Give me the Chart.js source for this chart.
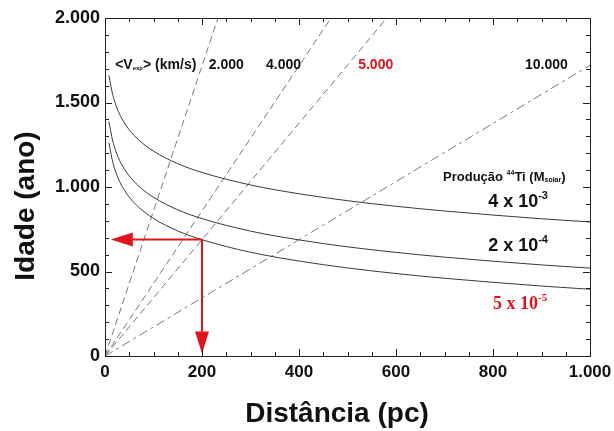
<!DOCTYPE html>
<html>
<head>
<meta charset="utf-8">
<script src="https://cdn.jsdelivr.net/npm/chart.js@4.4.1/dist/chart.umd.min.js"></script>
<style>
    html, body { margin: 0; padding: 0; background: #fff; }
</style>
</head>
<body>
<canvas id="idadeChart" width="614" height="431"></canvas>
<script>
// Distâncias (pc) usadas nas curvas de idade
const distancias = [8, 10, 15, 20, 30, 40, 50, 70, 100, 150, 200, 300, 400, 500, 600, 700, 800, 900, 1000];

// Idade (anos) para cada produção de 44Ti
const idade4e3 = [1660, 1631, 1557, 1505, 1431, 1379, 1338, 1277, 1212, 1138, 1086, 1012, 960, 919, 886, 858, 834, 812, 793];
const idade2e4 = [1387, 1358, 1284, 1232, 1158, 1106, 1065, 1004, 939, 865, 813, 739, 687, 646, 613, 585, 561, 539, 520];
const idade5e5 = [1262, 1233, 1159, 1107, 1033, 981, 940, 879, 814, 740, 688, 614, 562, 521, 488, 460, 436, 414, 395];

// Retas de velocidade de expansão: saem da origem até (fimDistancia, fimIdade)
const velocidades = [2000, 4000, 5000, 10000];
const fimDistancia = [233, 466, 581, 1000];
const fimIdade = [2000, 2000, 2000, 1720];

// Ponto lido (distância, idade) marcado pelas setas vermelhas
const setaDistancia = 200;
const setaIdade = 690;

// Rótulos dos eixos
const rotulosX = [0, 200, 400, 600, 800, 1000];
const rotulosY = [0, 500, 1000, 1500, 2000];

const VERMELHO = "#e3131b";
const FONTE = 'Arial, "Liberation Sans", sans-serif';

// 1000 -> "1.000"
function fmt(v) {
    return String(v).replace(/\B(?=(\d{3})+(?!\d))/g, ".");
}

function serie(ys) {
    return distancias.map((d, i) => ({ x: d, y: ys[i] }));
}

// texto com expoente (ou índice) menor ao lado
function textoComposto(ctx, partes, x, y) {
    let cx = x;
    partes.forEach(p => {
        ctx.font = p.font;
        ctx.fillStyle = p.cor;
        ctx.fillText(p.t, cx, y + (p.dy || 0));
        cx += ctx.measureText(p.t).width;
    });
}

function seta(ctx, x1, y1, x2, y2) {
    const ang = Math.atan2(y2 - y1, x2 - x1);
    const comp = 22, meia = 7;
    const bx = x2 - comp * Math.cos(ang), by = y2 - comp * Math.sin(ang);
    ctx.beginPath();
    ctx.moveTo(x1, y1);
    ctx.lineTo(bx, by);
    ctx.stroke();
    ctx.beginPath();
    ctx.moveTo(x2, y2);
    ctx.lineTo(bx + meia * Math.sin(ang), by - meia * Math.cos(ang));
    ctx.lineTo(bx - meia * Math.sin(ang), by + meia * Math.cos(ang));
    ctx.closePath();
    ctx.fill();
}

// Moldura com marcas internas nos quatro lados
const moldura = {
    id: "moldura",
    afterDraw(chart) {
        const { ctx, chartArea: a, scales: { x, y } } = chart;
        ctx.save();
        ctx.strokeStyle = "#222";
        ctx.lineWidth = 1;
        ctx.strokeRect(a.left + 0.5, a.top + 0.5, a.right - a.left, a.bottom - a.top);
        ctx.beginPath();
        for (let v = 0; v <= 1000; v += 50) {
            const px = Math.round(x.getPixelForValue(v)) + 0.5;
            const L = v % 200 === 0 ? 7 : 4;
            ctx.moveTo(px, a.bottom); ctx.lineTo(px, a.bottom - L);
            ctx.moveTo(px, a.top); ctx.lineTo(px, a.top + L);
        }
        for (let v = 0; v <= 2000; v += 100) {
            const py = Math.round(y.getPixelForValue(v)) + 0.5;
            const L = v % 500 === 0 ? 7 : 4;
            ctx.moveTo(a.left, py); ctx.lineTo(a.left + L, py);
            ctx.moveTo(a.right, py); ctx.lineTo(a.right - L, py);
        }
        ctx.stroke();

        // títulos dos eixos
        ctx.fillStyle = "#111";
        ctx.font = "bold 28px " + FONTE;
        ctx.textAlign = "center";
        ctx.textBaseline = "alphabetic";
        ctx.fillText("Distância (pc)", 337, 422);
        ctx.translate(34, 206);
        ctx.rotate(-Math.PI / 2);
        ctx.fillText("Idade (ano)", 0, 0);
        ctx.restore();
    }
};

// Rótulos internos e setas
const anotacoes = {
    id: "anotacoes",
    afterDatasetsDraw(chart) {
        const { ctx, scales: { x, y } } = chart;
        ctx.save();
        ctx.textAlign = "left";
        ctx.textBaseline = "middle";

        const yV = y.getPixelForValue(1722);
        const b14 = "bold 14px " + FONTE;
        textoComposto(ctx, [
            { t: "<V", font: b14, cor: "#111" },
            { t: "exp", font: "bold 6px " + FONTE, cor: "#111", dy: 3 },
            { t: "> (km/s)", font: b14, cor: "#111" }
        ], x.getPixelForValue(21), yV);
        const posV = [214, 332, 522, 866];
        velocidades.forEach((v, i) => {
            ctx.font = b14;
            ctx.fillStyle = v === 5000 ? VERMELHO : "#111";
            ctx.fillText(fmt(v), x.getPixelForValue(posV[i]), yV);
        });

        textoComposto(ctx, [
            { t: "Produção ", font: "bold 13px " + FONTE, cor: "#111" },
            { t: "44", font: "bold 7px " + FONTE, cor: "#111", dy: -4 },
            { t: "Ti (M", font: "bold 13px " + FONTE, cor: "#111" },
            { t: "solar", font: "bold 7px " + FONTE, cor: "#111", dy: 3 },
            { t: ")", font: "bold 13px " + FONTE, cor: "#111" }
        ], x.getPixelForValue(697), y.getPixelForValue(1059));

        const b18 = "bold 18px " + FONTE;
        const s11 = "bold 11px " + FONTE;
        textoComposto(ctx, [
            { t: "4 x 10", font: b18, cor: "#111" },
            { t: "-3", font: s11, cor: "#111", dy: -6 }
        ], x.getPixelForValue(790), y.getPixelForValue(911));
        textoComposto(ctx, [
            { t: "2 x 10", font: b18, cor: "#111" },
            { t: "-4", font: s11, cor: "#111", dy: -6 }
        ], x.getPixelForValue(790), y.getPixelForValue(651));
        const serif = '"Times New Roman", "Liberation Serif", serif';
        textoComposto(ctx, [
            { t: "5 x 10", font: "bold 18px " + serif, cor: VERMELHO },
            { t: "-5", font: "bold 11px " + serif, cor: VERMELHO, dy: -6 }
        ], x.getPixelForValue(800), y.getPixelForValue(308));

        // setas partindo do ponto lido
        const cx = x.getPixelForValue(setaDistancia);
        const cy = y.getPixelForValue(setaIdade);
        ctx.strokeStyle = VERMELHO;
        ctx.fillStyle = VERMELHO;
        ctx.lineWidth = 2;
        seta(ctx, cx, cy, x.getPixelForValue(12), cy);
        seta(ctx, cx, cy, cx, y.getPixelForValue(15));
        ctx.restore();
    }
};

const curva = (ys) => ({
    data: serie(ys),
    borderColor: "#3a3a3a",
    borderWidth: 1,
    cubicInterpolationMode: "monotone",
    pointRadius: 0
});

const retas = velocidades.map((v, i) => ({
    data: [{ x: 0, y: 0 }, { x: fimDistancia[i], y: fimIdade[i] }],
    borderColor: "#777",
    borderWidth: 1,
    borderDash: v === 10000 ? [9, 4, 3, 4] : [7, 4],
    pointRadius: 0
}));

new Chart(document.getElementById("idadeChart"), {
    type: "line",
    data: {
        datasets: [curva(idade4e3), curva(idade2e4), curva(idade5e5), ...retas]
    },
    options: {
        responsive: false,
        animation: false,
        layout: { padding: { top: 18, right: 24, left: 0, bottom: 0 } },
        plugins: {
            legend: { display: false },
            tooltip: { enabled: false }
        },
        scales: {
            x: {
                type: "linear",
                min: 0,
                max: 1000,
                grid: { display: false, drawTicks: false },
                border: { display: false },
                ticks: {
                    autoSkip: false,
                    maxRotation: 0,
                    padding: 6,
                    color: "#111",
                    font: { family: FONTE, size: 17, weight: "bold" },
                    callback: v => fmt(v)
                },
                afterBuildTicks: s => { s.ticks = rotulosX.map(v => ({ value: v })); },
                afterFit: s => { s.height = 75; s.paddingLeft = 0; s.paddingRight = 0; }
            },
            y: {
                type: "linear",
                min: 0,
                max: 2000,
                grid: { display: false, drawTicks: false },
                border: { display: false },
                ticks: {
                    autoSkip: false,
                    padding: 5,
                    color: "#111",
                    font: { family: FONTE, size: 18, weight: "bold" },
                    callback: v => fmt(v)
                },
                afterBuildTicks: s => { s.ticks = rotulosY.map(v => ({ value: v })); },
                afterFit: s => { s.width = 105; s.paddingTop = 0; s.paddingBottom = 0; }
            }
        }
    },
    plugins: [moldura, anotacoes]
});
</script>
</body>
</html>
